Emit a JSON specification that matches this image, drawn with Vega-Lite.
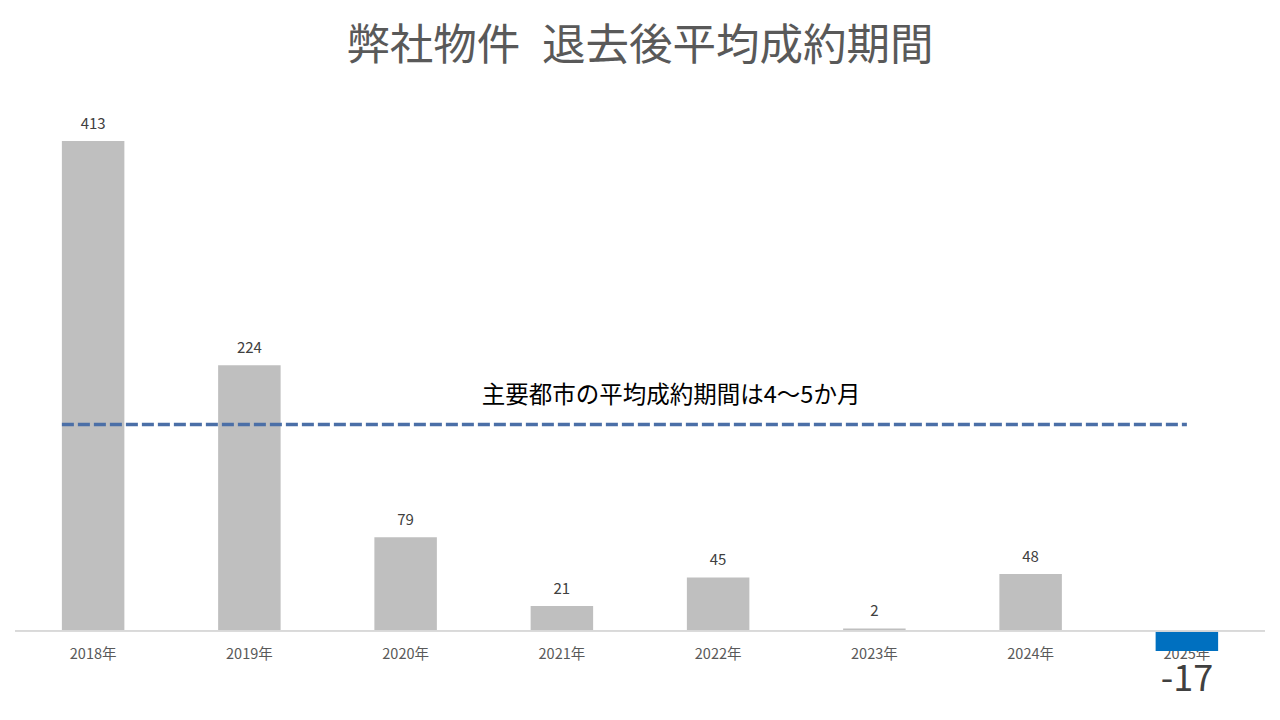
{
  "$schema": "https://vega.github.io/schema/vega-lite/v6.json",
  "width": 1250,
  "height": 593,
  "autosize": {"type": "none"},
  "padding": {"left": 15, "right": 15, "top": 109, "bottom": 18},
  "background": "#ffffff",
  "view": {"stroke": null},
  "title": {
    "text": "弊社物件\u2002退去後平均成約期間",
    "font": "Noto Sans CJK JP",
    "fontSize": 43.5,
    "fontWeight": "normal",
    "color": "#595959",
    "anchor": "middle",
    "offset": 40
  },
  "datasets": {
    "bars": [
      {"year": "2018年", "v": 413},
      {"year": "2019年", "v": 224},
      {"year": "2020年", "v": 79},
      {"year": "2021年", "v": 21},
      {"year": "2022年", "v": 45},
      {"year": "2023年", "v": 2},
      {"year": "2024年", "v": 48},
      {"year": "2025年", "v": -17}
    ],
    "ref": [
      {"year": "2018年", "year2": "2025年", "labelYear": "2022年", "v": 174, "label": "主要都市の平均成約期間は4～5か月"}
    ]
  },
  "encoding": {
    "x": {
      "field": "year",
      "type": "nominal",
      "sort": null,
      "scale": {"paddingInner": 0.6, "paddingOuter": 0.3},
      "axis": null
    }
  },
  "layer": [
    {
      "data": {"name": "bars"},
      "mark": {"type": "text", "font": "Noto Sans CJK JP", "fontSize": 14.5, "color": "#595959", "baseline": "middle", "dy": 24},
      "encoding": {
        "y": {"datum": 0, "type": "quantitative", "scale": {"domain": [-60, 440], "nice": false}, "axis": null},
        "text": {"field": "year"}
      }
    },
    {
      "data": {"name": "bars"},
      "mark": {"type": "bar"},
      "encoding": {
        "y": {"field": "v", "type": "quantitative", "scale": {"domain": [-60, 440], "nice": false}, "axis": null},
        "color": {
          "condition": {"test": "datum.v < 0", "value": "#0070c0"},
          "value": "#bfbfbf"
        }
      }
    },
    {
      "data": {"name": "bars"},
      "mark": {"type": "rule", "color": "#d9d9d9", "strokeWidth": 1},
      "encoding": {
        "x": null,
        "y": {"datum": 0, "type": "quantitative"}
      }
    },
    {
      "data": {"name": "bars"},
      "transform": [{"filter": "datum.v >= 0"}],
      "mark": {"type": "text", "font": "Noto Sans CJK JP", "fontSize": 15, "color": "#404040", "baseline": "middle", "dy": -17},
      "encoding": {
        "y": {"field": "v", "type": "quantitative"},
        "text": {"field": "v", "type": "nominal"}
      }
    },
    {
      "data": {"name": "bars"},
      "transform": [{"filter": "datum.v < 0"}],
      "mark": {"type": "text", "font": "Noto Sans CJK JP", "fontSize": 36, "color": "#404040", "baseline": "middle", "dy": 29},
      "encoding": {
        "y": {"field": "v", "type": "quantitative"},
        "text": {"field": "v", "type": "nominal"}
      }
    },
    {
      "data": {"name": "ref"},
      "mark": {"type": "rule", "color": "#4b6fa7", "strokeWidth": 3.5, "strokeDash": [12, 4]},
      "encoding": {
        "x": {"field": "year", "type": "nominal", "bandPosition": 0},
        "x2": {"field": "year2", "bandPosition": 0.5},
        "y": {"field": "v", "type": "quantitative"}
      }
    },
    {
      "data": {"name": "ref"},
      "mark": {"type": "text", "font": "Noto Sans CJK JP", "fontSize": 23.5, "color": "#000000", "baseline": "middle", "align": "center", "dx": -47, "dy": -28},
      "encoding": {
        "x": {"field": "labelYear", "type": "nominal"},
        "y": {"field": "v", "type": "quantitative"},
        "text": {"field": "label"}
      }
    }
  ]
}
